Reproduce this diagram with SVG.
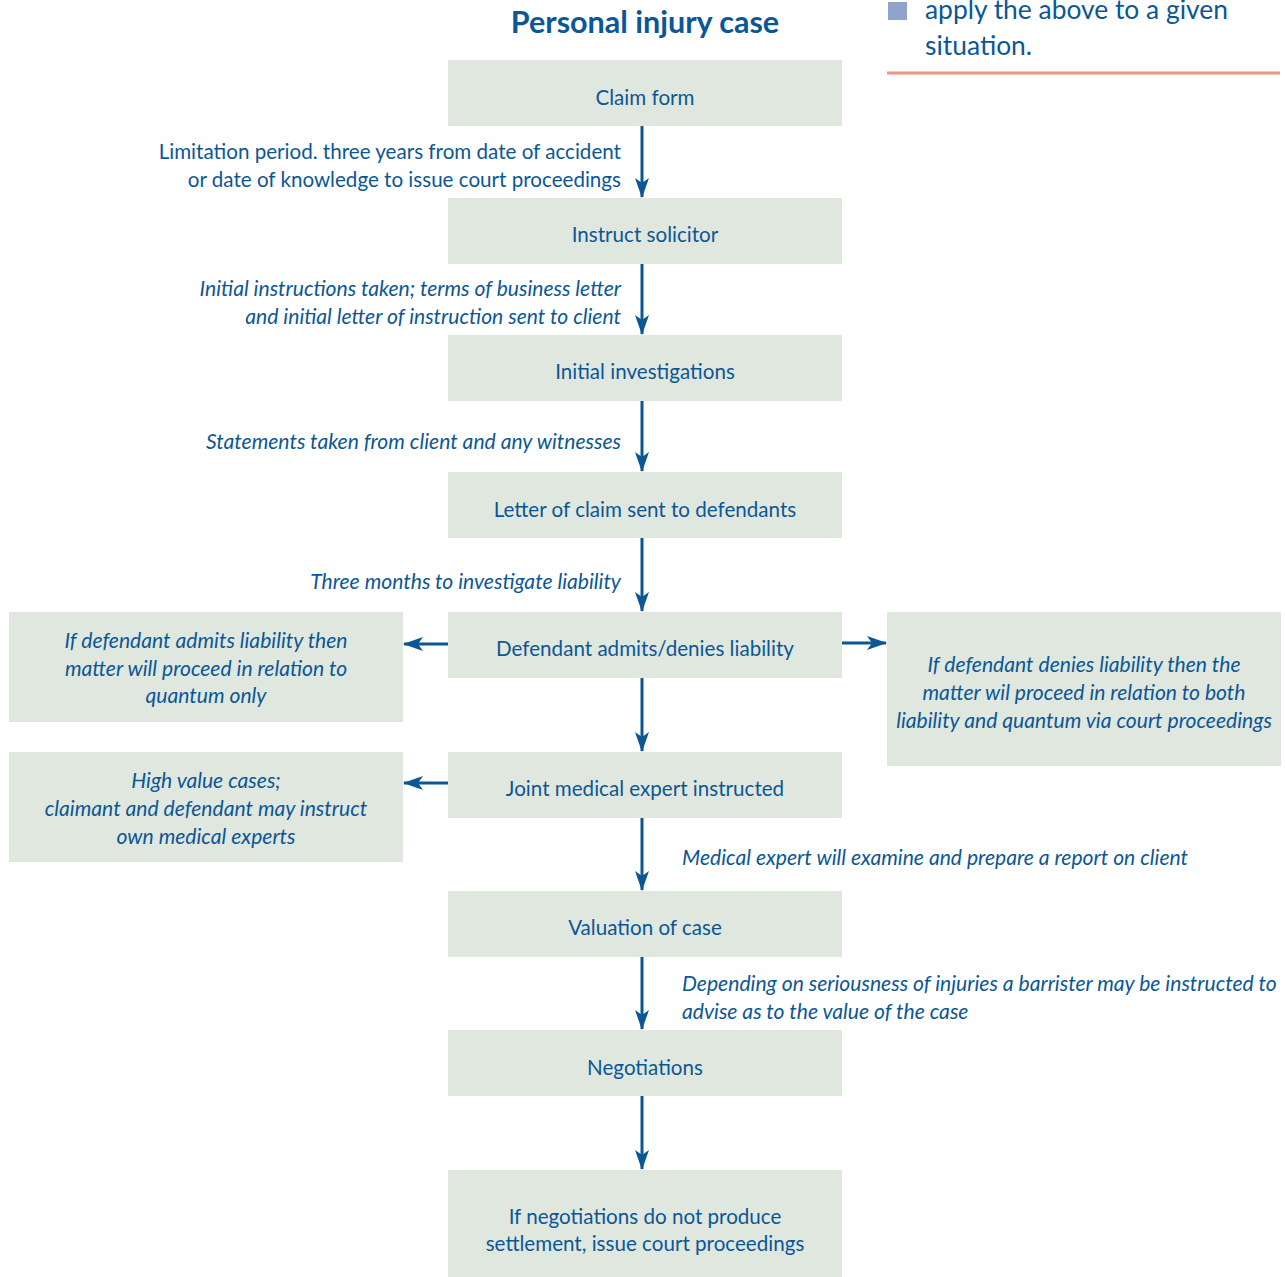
<svg xmlns="http://www.w3.org/2000/svg" width="1285" height="1277" viewBox="0 0 1285 1277">
  <style>
    text { font-family: Lato, "Open Sans", "Liberation Sans", sans-serif; fill: #0b5796; font-size: 20.6px; }
    .title { font-size: 30.5px; font-weight: bold; text-anchor: middle; fill: #0b5796; }
    .box { fill: #dfe7df; }
    .c { text-anchor: middle; }
    .r { text-anchor: end; }
    .it { font-style: italic; font-size: 21.1px; }
    .i { font-style: italic; font-size: 21.1px; text-anchor: middle; }
    .conn { stroke: #0b5796; stroke-width: 3; fill: none; marker-end: url(#arr); }
    .side { font-size: 26.4px; }
  </style>
  <defs>
    <marker id="arr" viewBox="0 0 20 14" refX="19" refY="7" markerWidth="20" markerHeight="14" markerUnits="userSpaceOnUse" orient="auto">
      <path d="M0,0 L20,7 L0,14 L5,7 Z" fill="#0b5796"/>
    </marker>
  </defs>

  <!-- page header fragment at top right -->
  <g id="side-note">
    <rect x="888" y="2" width="19" height="18" fill="#8fa3cc"/>
    <text class="side" x="925" y="19">apply the above to a given</text>
    <text class="side" x="925" y="55">situation.</text>
    <line x1="887" y1="73" x2="1280" y2="73" stroke="#f0948a" stroke-width="3"/>
  </g>

  <text class="title" x="645" y="33">Personal injury case</text>

  <!-- connectors -->
  <g id="connectors">
    <line class="conn" x1="642" y1="126" x2="642" y2="197"/>
    <line class="conn" x1="642" y1="264" x2="642" y2="334"/>
    <line class="conn" x1="642" y1="401" x2="642" y2="471"/>
    <line class="conn" x1="642" y1="538" x2="642" y2="611"/>
    <line class="conn" x1="642" y1="678" x2="642" y2="751"/>
    <line class="conn" x1="642" y1="818" x2="642" y2="890"/>
    <line class="conn" x1="642" y1="957" x2="642" y2="1029"/>
    <line class="conn" x1="642" y1="1096" x2="642" y2="1169"/>
    <line class="conn" x1="448" y1="644" x2="404" y2="644"/>
    <line class="conn" x1="448" y1="783" x2="404" y2="783"/>
    <line class="conn" x1="842" y1="643" x2="886" y2="643"/>
  </g>

  <!-- connector labels -->
  <g id="labels">
    <text class="r" x="621" y="159">Limitation period. three years from date of accident</text>
    <text class="r" x="621" y="187">or date of knowledge to issue court proceedings</text>
    <text class="r it" x="621" y="296">Initial instructions taken; terms of business letter</text>
    <text class="r it" x="621" y="324">and initial letter of instruction sent to client</text>
    <text class="r it" x="621" y="449">Statements taken from client and any witnesses</text>
    <text class="r it" x="621" y="589">Three months to investigate liability</text>
    <text class="it" x="682" y="865">Medical expert will examine and prepare a report on client</text>
    <text class="it" x="682" y="991">Depending on seriousness of injuries a barrister may be instructed to</text>
    <text class="it" x="682" y="1019">advise as to the value of the case</text>
  </g>

  <g id="claim-form">
    <rect class="box" x="448" y="60" width="394" height="66"/>
    <text class="c" x="645" y="105">Claim form</text>
  </g>
  <g id="instruct-solicitor">
    <rect class="box" x="448" y="198" width="394" height="66"/>
    <text class="c" x="645" y="242">Instruct solicitor</text>
  </g>
  <g id="initial-investigations">
    <rect class="box" x="448" y="335" width="394" height="66"/>
    <text class="c" x="645" y="379">Initial investigations</text>
  </g>
  <g id="letter-of-claim">
    <rect class="box" x="448" y="472" width="394" height="66"/>
    <text class="c" x="645" y="517">Letter of claim sent to defendants</text>
  </g>
  <g id="admits-denies">
    <rect class="box" x="448" y="612" width="394" height="66"/>
    <text class="c" x="645" y="656">Defendant admits/denies liability</text>
  </g>
  <g id="joint-medical-expert">
    <rect class="box" x="448" y="752" width="394" height="66"/>
    <text class="c" x="645" y="796">Joint medical expert instructed</text>
  </g>
  <g id="valuation">
    <rect class="box" x="448" y="891" width="394" height="66"/>
    <text class="c" x="645" y="935">Valuation of case</text>
  </g>
  <g id="negotiations">
    <rect class="box" x="448" y="1030" width="394" height="66"/>
    <text class="c" x="645" y="1075">Negotiations</text>
  </g>
  <g id="court-proceedings">
    <rect class="box" x="448" y="1170" width="394" height="107"/>
    <text class="c" x="645" y="1224">If negotiations do not produce</text>
    <text class="c" x="645" y="1251">settlement, issue court proceedings</text>
  </g>

  <g id="admits-branch">
    <rect class="box" x="9" y="612" width="394" height="110"/>
    <text class="i" x="206" y="648">If defendant admits liability then</text>
    <text class="i" x="206" y="676">matter will proceed in relation to</text>
    <text class="i" x="206" y="703">quantum only</text>
  </g>
  <g id="high-value-branch">
    <rect class="box" x="9" y="752" width="394" height="110"/>
    <text class="i" x="206" y="788">High value cases;</text>
    <text class="i" x="206" y="816">claimant and defendant may instruct</text>
    <text class="i" x="206" y="844">own medical experts</text>
  </g>
  <g id="denies-branch">
    <rect class="box" x="887" y="612" width="394" height="154"/>
    <text class="i" x="1084" y="672">If defendant denies liability then the</text>
    <text class="i" x="1084" y="700">matter wil proceed in relation to both</text>
    <text class="i" x="1084" y="728">liability and quantum via court proceedings</text>
  </g>
</svg>
